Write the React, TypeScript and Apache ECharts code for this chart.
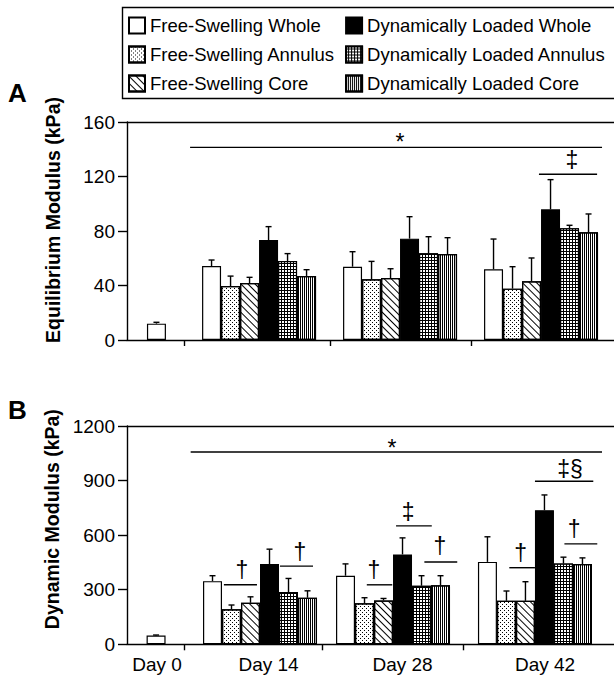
import React, { useEffect, useRef } from 'react';
import * as echarts from 'echarts';

// ---------- data ----------
const days = ['Day 0', 'Day 14', 'Day 28', 'Day 42'];
const seriesNames = [
  'Free-Swelling Whole',
  'Free-Swelling Annulus',
  'Free-Swelling Core',
  'Dynamically Loaded Whole',
  'Dynamically Loaded Annulus',
  'Dynamically Loaded Core',
];

// Panel A: Equilibrium modulus (kPa), values per day [Day 0, Day 14, Day 28, Day 42]
const eqFSWhole = [12, 54.3, 53.8, 51.9];
const eqFSAnnulus = [null, 39.6, 44.5, 37.7];
const eqFSCore = [null, 41.8, 45.5, 43.1];
const eqDLWhole = [null, 73.4, 74.4, 95.9];
const eqDLAnnulus = [null, 58, 63.6, 82];
const eqDLCore = [null, 47, 63.1, 79];
// Panel A: error bars (SD)
const eqFSWholeErr = [1, 4.4, 11, 22.2];
const eqFSAnnulusErr = [null, 7.3, 13.2, 16.1];
const eqFSCoreErr = [null, 4.2, 6.8, 17.1];
const eqDLWholeErr = [null, 9.8, 16.1, 21.8];
const eqDLAnnulusErr = [null, 5.4, 12.2, 2.2];
const eqDLCoreErr = [null, 4.6, 12, 13.5];

// Panel B: Dynamic modulus (kPa)
const dynFSWhole = [48, 347, 377, 453];
const dynFSAnnulus = [null, 192, 225, 239];
const dynFSCore = [null, 228, 241, 239];
const dynDLWhole = [null, 441, 494, 737];
const dynDLAnnulus = [null, 287, 322, 444];
const dynDLCore = [null, 256, 325, 441];
// Panel B: error bars
const dynFSWholeErr = [3, 30, 65, 138];
const dynFSAnnulusErr = [null, 24, 31, 54];
const dynFSCoreErr = [null, 33, 11, 105];
const dynDLWholeErr = [null, 82, 91, 84];
const dynDLAnnulusErr = [null, 75, 55, 35];
const dynDLCoreErr = [null, 38, 52, 34];

// Y axis ticks
const eqTicks = { min: 0, max: 160, interval: 40 };
const dynTicks = { min: 0, max: 1200, interval: 300 };

// Significance annotations: [x1, x2, y, textX, textY] in data units, with labels
const eqSigLines = [
  [3.32, 25.0, 141.4, 14.37, 145.5],
  [21.68, 24.74, 121.6, 23.42, 132.1],
];
const eqSigLabels = ['*', '‡'];
const dynSigLines = [
  [3.35, 25.0, 1057, 13.95, 1080],
  [5.1, 6.84, 327, 6.05, 408],
  [8.05, 9.79, 430, 9.1, 508],
  [12.62, 13.96, 327, 13.0, 408],
  [14.16, 16.04, 651, 14.79, 726],
  [15.65, 17.38, 452, 16.47, 540],
  [20.12, 21.47, 421, 20.72, 504],
  [21.47, 24.54, 896, 23.32, 965],
  [23.02, 24.75, 552, 23.53, 633],
];
const dynSigLabels = ['*', '†', '†', '†', '‡', '†', '†', '‡§', '†'];

// ---------- layout (x axis in bar-width units) ----------
const X_MAX = 25.63;
const groupCentersA = [1.55, 6.95, 14.37, 21.79];
const groupCentersB = [1.53, 7.0, 14.0, 21.47];
const tickPosA = [3.0, 10.68, 18.1];
const tickPosB = [3.0, 10.26, 17.68];
const labelPosB = [1.58, 7.45, 14.5, 22.0];

const FONT = 'Liberation Sans, Arial, Helvetica, sans-serif';
const INK = '#000';

const decals: any[] = [
  undefined,
  {
    symbol: 'rect', symbolSize: 1, color: '#000',
    dashArrayX: [[1, 3], [0, 2, 1, 1]], dashArrayY: [1, 1],
  },
  {
    symbol: 'rect', symbolSize: 1, color: '#000',
    dashArrayX: [1, 0], dashArrayY: [1, 4], rotation: Math.PI / 4,
  },
  undefined,
  {
    symbol: 'rect', symbolSize: 1, color: '#fff',
    dashArrayX: [2, 1], dashArrayY: [2, 1],
  },
  {
    symbol: 'rect', symbolSize: 1, color: '#000',
    dashArrayX: [1, 1], dashArrayY: [1, 0],
  },
];
const fills = ['#fff', '#fff', '#fff', '#000', '#000', '#fff'];

function xPos(centers: number[], dayIdx: number, sIdx: number) {
  return dayIdx === 0 ? centers[0] : centers[dayIdx] + (sIdx - 2.5);
}

function buildPanel(
  panel: number,
  values: (number | null)[][],
  errors: (number | null)[][],
  centers: number[],
  sigLines: number[][],
  sigLabels: string[],
) {
  const series: any[] = [];
  const errData: number[][] = [];
  values.forEach((vals, s) => {
    const data: number[][] = [];
    vals.forEach((v, d) => {
      if (v == null) return;
      const x = xPos(centers, d, s);
      data.push([x, v]);
      errData.push([x, v, errors[s][d] as number]);
    });
    series.push({
      type: 'bar',
      name: seriesNames[s],
      xAxisIndex: panel,
      yAxisIndex: panel,
      barWidth: 19,
      barGap: '-100%',
      data,
      itemStyle: {
        color: fills[s],
        borderColor: INK,
        borderWidth: 1.2,
        decal: decals[s],
      },
      emphasis: { disabled: true },
      z: 2,
    });
  });
  series.push({
    type: 'custom',
    name: 'err' + panel,
    xAxisIndex: panel,
    yAxisIndex: panel,
    data: errData,
    encode: { x: 0, y: [1, 2] },
    z: 3,
    silent: true,
    renderItem: (params: any, api: any) => {
      const x = api.value(0);
      const y = api.value(1);
      const e = api.value(2);
      const p0 = api.coord([x, y]);
      const p1 = api.coord([x, y + e]);
      const st = { stroke: INK, lineWidth: 1.4 };
      return {
        type: 'group',
        children: [
          { type: 'line', shape: { x1: p0[0], y1: p0[1], x2: p1[0], y2: p1[1] }, style: st },
          { type: 'line', shape: { x1: p1[0] - 3, y1: p1[1], x2: p1[0] + 3, y2: p1[1] }, style: st },
        ],
      };
    },
  });
  series.push({
    type: 'custom',
    name: 'sig' + panel,
    xAxisIndex: panel,
    yAxisIndex: panel,
    data: sigLines,
    encode: { x: [0, 1, 3], y: [2, 4] },
    z: 4,
    silent: true,
    clip: false,
    renderItem: (params: any, api: any) => {
      const a = api.coord([api.value(0), api.value(2)]);
      const b = api.coord([api.value(1), api.value(2)]);
      const t = api.coord([api.value(3), api.value(4)]);
      return {
        type: 'group',
        children: [
          { type: 'line', shape: { x1: a[0], y1: a[1], x2: b[0], y2: b[1] }, style: { stroke: INK, lineWidth: 1.4 } },
          {
            type: 'text', x: t[0], y: t[1],
            style: {
              text: sigLabels[params.dataIndex], fontSize: 23, fontFamily: FONT, fill: INK,
              align: 'center', verticalAlign: 'middle',
            },
          },
        ],
      };
    },
  });
  return series;
}

export default function App() {
  const ref = useRef<HTMLDivElement>(null);
  useEffect(() => {
    if (!ref.current) return;
    const chart = echarts.init(ref.current, null, { renderer: 'svg' });
    const axisLine = { show: true, lineStyle: { color: INK, width: 1.4 } };
    const yAxisCommon = {
      type: 'value',
      axisLine,
      axisTick: { show: true, inside: false, length: 9, lineStyle: { color: INK, width: 1.4 } },
      axisLabel: { fontSize: 19, color: INK, fontFamily: FONT, margin: 12, formatter: (v: number) => String(v) },
      splitLine: { show: false },
      nameLocation: 'middle',
      nameRotate: 90,
      nameTextStyle: { fontSize: 19.5, fontWeight: 'bold', color: INK, fontFamily: FONT },
    };
    const option: any = {
      animation: false,
      backgroundColor: '#fff',
      textStyle: { fontFamily: FONT },
      title: [
        { text: 'A', left: 8, top: 80, padding: 0, textStyle: { fontSize: 26, fontWeight: 'bold', color: INK, fontFamily: FONT } },
        { text: 'B', left: 8, top: 397, padding: 0, textStyle: { fontSize: 26, fontWeight: 'bold', color: INK, fontFamily: FONT } },
      ],
      // legend frame (its right side runs past the picture's edge)
      graphic: [
        {
          type: 'rect', left: 120, top: 5, z: 0, silent: true,
          shape: { width: 520, height: 91 },
          style: { fill: 'none', stroke: INK, lineWidth: 1.4 },
        },
      ],
      legend: {
        data: seriesNames,
        orient: 'vertical',
        left: 120,
        top: 5,
        height: 91,
        padding: [11, 2, 11, 8],
        itemGap: 10,
        itemWidth: 16,
        itemHeight: 16,
        icon: 'rect',
        textStyle: { fontSize: 18.5, color: INK, fontFamily: FONT },
        selectedMode: false,
      },
      grid: [
        { left: 127, top: 122, right: 0, height: 218, outerBoundsMode: 'none' },
        { left: 127, top: 426, right: 0, height: 218.3, outerBoundsMode: 'none' },
      ],
      xAxis: [
        {
          type: 'value', gridIndex: 0, min: 0, max: X_MAX,
          axisLine,
          axisTick: { show: true, customValues: tickPosA, length: 6, lineStyle: { color: INK, width: 1.4 } },
          axisLabel: { show: false },
          splitLine: { show: false },
        },
        {
          type: 'value', gridIndex: 1, min: 0, max: X_MAX,
          axisLine,
          axisTick: { show: true, customValues: tickPosB, length: 6, lineStyle: { color: INK, width: 1.4 } },
          axisLabel: {
            show: true, customValues: labelPosB, fontSize: 19, color: INK, fontFamily: FONT, margin: 11,
            formatter: (v: number) => {
              let best = 0;
              labelPosB.forEach((p, i) => { if (Math.abs(p - v) < Math.abs(labelPosB[best] - v)) best = i; });
              return days[best];
            },
          },
          splitLine: { show: false },
        },
        {
          type: 'value', gridIndex: 0, min: 0, max: X_MAX, position: 'top',
          axisLine, axisTick: { show: false }, axisLabel: { show: false }, splitLine: { show: false },
        },
        {
          type: 'value', gridIndex: 1, min: 0, max: X_MAX, position: 'top',
          axisLine, axisTick: { show: false }, axisLabel: { show: false }, splitLine: { show: false },
        },
      ],
      yAxis: [
        {
          ...yAxisCommon, gridIndex: 0, ...eqTicks,
          name: 'Equilibrium Modulus (kPa)', nameGap: 64,
          nameTextStyle: { ...yAxisCommon.nameTextStyle, padding: [0, 0, 0, 22] },
        },
        {
          ...yAxisCommon, gridIndex: 1, ...dynTicks,
          name: 'Dynamic Modulus (kPa)', nameGap: 64,
          nameTextStyle: { ...yAxisCommon.nameTextStyle, padding: [0, 0, 0, 32] },
        },
      ],
      series: [
        ...buildPanel(
          0,
          [eqFSWhole, eqFSAnnulus, eqFSCore, eqDLWhole, eqDLAnnulus, eqDLCore],
          [eqFSWholeErr, eqFSAnnulusErr, eqFSCoreErr, eqDLWholeErr, eqDLAnnulusErr, eqDLCoreErr],
          groupCentersA, eqSigLines, eqSigLabels,
        ),
        ...buildPanel(
          1,
          [dynFSWhole, dynFSAnnulus, dynFSCore, dynDLWhole, dynDLAnnulus, dynDLCore],
          [dynFSWholeErr, dynFSAnnulusErr, dynFSCoreErr, dynDLWholeErr, dynDLAnnulusErr, dynDLCoreErr],
          groupCentersB, dynSigLines, dynSigLabels,
        ),
      ],
    };
    chart.setOption(option);
    return () => chart.dispose();
  }, []);
  return (
    <div
      ref={ref}
      style={{ position: 'absolute', left: 0, top: 0, width: 614, height: 678, background: '#fff' }}
    />
  );
}
